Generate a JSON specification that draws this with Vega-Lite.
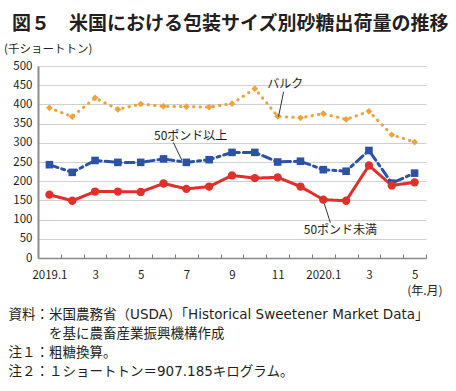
{
  "$schema": "https://vega.github.io/schema/vega-lite/v6.json",
  "width": 388,
  "height": 192,
  "autosize": {"type": "none"},
  "padding": {"left": 38, "top": 66, "right": 30, "bottom": 133},
  "background": "white",
  "title": {
    "text": "図５　米国における包装サイズ別砂糖出荷量の推移",
    "anchor": "start",
    "frame": "group",
    "font": "Noto Sans CJK JP",
    "fontSize": 19,
    "fontWeight": "bold",
    "color": "#231f20",
    "baseline": "middle",
    "dx": -26,
    "offset": 0
  },
  "config": {
    "font": "Noto Sans CJK JP",
    "view": {"stroke": null},
    "text": {"font": "Noto Sans CJK JP"}
  },
  "datasets": {
    "series": [
      {"m": 1, "s": "バルク", "v": 391}, {"m": 2, "s": "バルク", "v": 368}, {"m": 3, "s": "バルク", "v": 417},
      {"m": 4, "s": "バルク", "v": 387}, {"m": 5, "s": "バルク", "v": 401}, {"m": 6, "s": "バルク", "v": 395},
      {"m": 7, "s": "バルク", "v": 394}, {"m": 8, "s": "バルク", "v": 393}, {"m": 9, "s": "バルク", "v": 402},
      {"m": 10, "s": "バルク", "v": 441}, {"m": 11, "s": "バルク", "v": 369}, {"m": 12, "s": "バルク", "v": 365},
      {"m": 13, "s": "バルク", "v": 376}, {"m": 14, "s": "バルク", "v": 361}, {"m": 15, "s": "バルク", "v": 382},
      {"m": 16, "s": "バルク", "v": 321}, {"m": 17, "s": "バルク", "v": 302},
      {"m": 1, "s": "50ポンド以上", "v": 243}, {"m": 2, "s": "50ポンド以上", "v": 223}, {"m": 3, "s": "50ポンド以上", "v": 254},
      {"m": 4, "s": "50ポンド以上", "v": 249}, {"m": 5, "s": "50ポンド以上", "v": 249}, {"m": 6, "s": "50ポンド以上", "v": 258},
      {"m": 7, "s": "50ポンド以上", "v": 249}, {"m": 8, "s": "50ポンド以上", "v": 256}, {"m": 9, "s": "50ポンド以上", "v": 275},
      {"m": 10, "s": "50ポンド以上", "v": 275}, {"m": 11, "s": "50ポンド以上", "v": 250}, {"m": 12, "s": "50ポンド以上", "v": 252},
      {"m": 13, "s": "50ポンド以上", "v": 230}, {"m": 14, "s": "50ポンド以上", "v": 226}, {"m": 15, "s": "50ポンド以上", "v": 280},
      {"m": 16, "s": "50ポンド以上", "v": 195}, {"m": 17, "s": "50ポンド以上", "v": 221},
      {"m": 1, "s": "50ポンド未満", "v": 165}, {"m": 2, "s": "50ポンド未満", "v": 149}, {"m": 3, "s": "50ポンド未満", "v": 173},
      {"m": 4, "s": "50ポンド未満", "v": 173}, {"m": 5, "s": "50ポンド未満", "v": 172}, {"m": 6, "s": "50ポンド未満", "v": 194},
      {"m": 7, "s": "50ポンド未満", "v": 180}, {"m": 8, "s": "50ポンド未満", "v": 186}, {"m": 9, "s": "50ポンド未満", "v": 215},
      {"m": 10, "s": "50ポンド未満", "v": 208}, {"m": 11, "s": "50ポンド未満", "v": 210}, {"m": 12, "s": "50ポンド未満", "v": 186},
      {"m": 13, "s": "50ポンド未満", "v": 152}, {"m": 14, "s": "50ポンド未満", "v": 149}, {"m": 15, "s": "50ポンド未満", "v": 241},
      {"m": 16, "s": "50ポンド未満", "v": 189}, {"m": 17, "s": "50ポンド未満", "v": 197}
    ],
    "labels": [
      {"t": "バルク", "m": 11.33, "v": 453},
      {"t": "50ポンド以上", "m": 7.19, "v": 318},
      {"t": "50ポンド未満", "m": 13.75, "v": 74},
      {"t": "(年.月)", "m": 17.45, "v": -87}
    ],
    "leaders": [
      {"m": 11.04, "v": 368, "m2": 11.26, "v2": 433},
      {"m": 6.43, "v": 301, "m2": 6.8, "v2": 255},
      {"m": 13.04, "v": 142, "m2": 13.31, "v2": 92}
    ]
  },
  "encoding": {
    "x": {
      "field": "m", "type": "quantitative",
      "scale": {"domain": [0.5, 17.5], "nice": false, "zero": false},
      "axis": {
        "values": [1.5, 2.5, 3.5, 4.5, 5.5, 6.5, 7.5, 8.5, 9.5, 10.5, 11.5, 12.5, 13.5, 14.5, 15.5, 16.5, 17.5],
        "labelExpr": "datum.value==1.5?'2019.1':datum.value==3.5?'3':datum.value==5.5?'5':datum.value==7.5?'7':datum.value==9.5?'9':datum.value==11.5?'11':datum.value==13.5?'2020.1':datum.value==15.5?'3':datum.value==17.5?'5':''",
        "labelOffset": -11.4,
        "labelOverlap": false,
        "labelFlush": false,
        "labelBound": false,
        "labelFontSize": 11.5,
        "labelColor": "#231f20",
        "labelBaseline": "top",
        "labelPadding": 15,
        "tickSize": -4,
        "tickColor": "#777777",
        "tickWidth": 1,
        "domainColor": "#888888",
        "domainWidth": 1.5,
        "grid": false,
        "title": ["資料：米国農務省（USDA）「Historical Sweetener Market Data」", "\u200b　　　を基に農畜産業振興機構作成", "注１：粗糖換算。", "注２：１ショートトン＝907.185キログラム。"],
        "titleFont": "DejaVu Sans, Noto Sans CJK JP",
        "titleAnchor": "start",
        "titleAlign": "left",
        "titleBaseline": "top",
        "titleX": -30,
        "titleY": 49,
        "titleFontSize": 13.5,
        "titleFontWeight": "normal",
        "titleColor": "#231f20",
        "titleLineHeight": 19.3
      }
    },
    "y": {
      "field": "v", "type": "quantitative",
      "scale": {"domain": [0, 500], "nice": false},
      "axis": {
        "values": [0, 50, 100, 150, 200, 250, 300, 350, 400, 450, 500],
        "ticks": false,
        "labelOverlap": false,
        "labelPadding": 6,
        "labelFontSize": 11.5,
        "labelColor": "#231f20",
        "domainColor": "#8c8c8c",
        "domainWidth": 2,
        "grid": true,
        "gridColor": "#d0d0d0",
        "gridWidth": 1,
        "title": "(千ショートトン)",
        "titleAngle": 0,
        "titleAlign": "left",
        "titleBaseline": "middle",
        "titleX": -34.5,
        "titleY": -17,
        "titleFontSize": 11.5,
        "titleFontWeight": "normal",
        "titleColor": "#231f20"
      }
    }
  },
  "layer": [
    {
      "data": {"name": "series"},
      "mark": {"type": "line", "strokeWidth": 3, "strokeCap": "round"},
      "encoding": {
        "color": {
          "field": "s", "type": "nominal",
          "scale": {"domain": ["バルク", "50ポンド以上", "50ポンド未満"], "range": ["#f0a23a", "#2c52a5", "#e0302b"]},
          "legend": null
        },
        "strokeDash": {
          "field": "s", "type": "nominal",
          "scale": {"domain": ["バルク", "50ポンド以上", "50ポンド未満"], "range": [[0.5, 6], [9, 4, 3, 4], [1, 0]]},
          "legend": null
        }
      }
    },
    {
      "data": {"name": "series"},
      "mark": {"type": "point", "filled": true, "opacity": 1},
      "encoding": {
        "color": {"field": "s", "type": "nominal", "legend": null},
        "shape": {
          "field": "s", "type": "nominal",
          "scale": {"domain": ["バルク", "50ポンド以上", "50ポンド未満"], "range": ["diamond", "square", "circle"]},
          "legend": null
        },
        "size": {
          "field": "s", "type": "nominal",
          "scale": {"domain": ["バルク", "50ポンド以上", "50ポンド未満"], "range": [45, 70, 70]},
          "legend": null
        }
      }
    },
    {
      "data": {"name": "leaders"},
      "mark": {"type": "rule", "color": "#333333", "strokeWidth": 1},
      "encoding": {
        "x2": {"field": "m2"},
        "y2": {"field": "v2"}
      }
    },
    {
      "data": {"name": "labels"},
      "mark": {"type": "text", "fontSize": 12, "color": "#231f20", "align": "center", "baseline": "middle"},
      "encoding": {
        "text": {"field": "t"}
      }
    }
  ]
}
